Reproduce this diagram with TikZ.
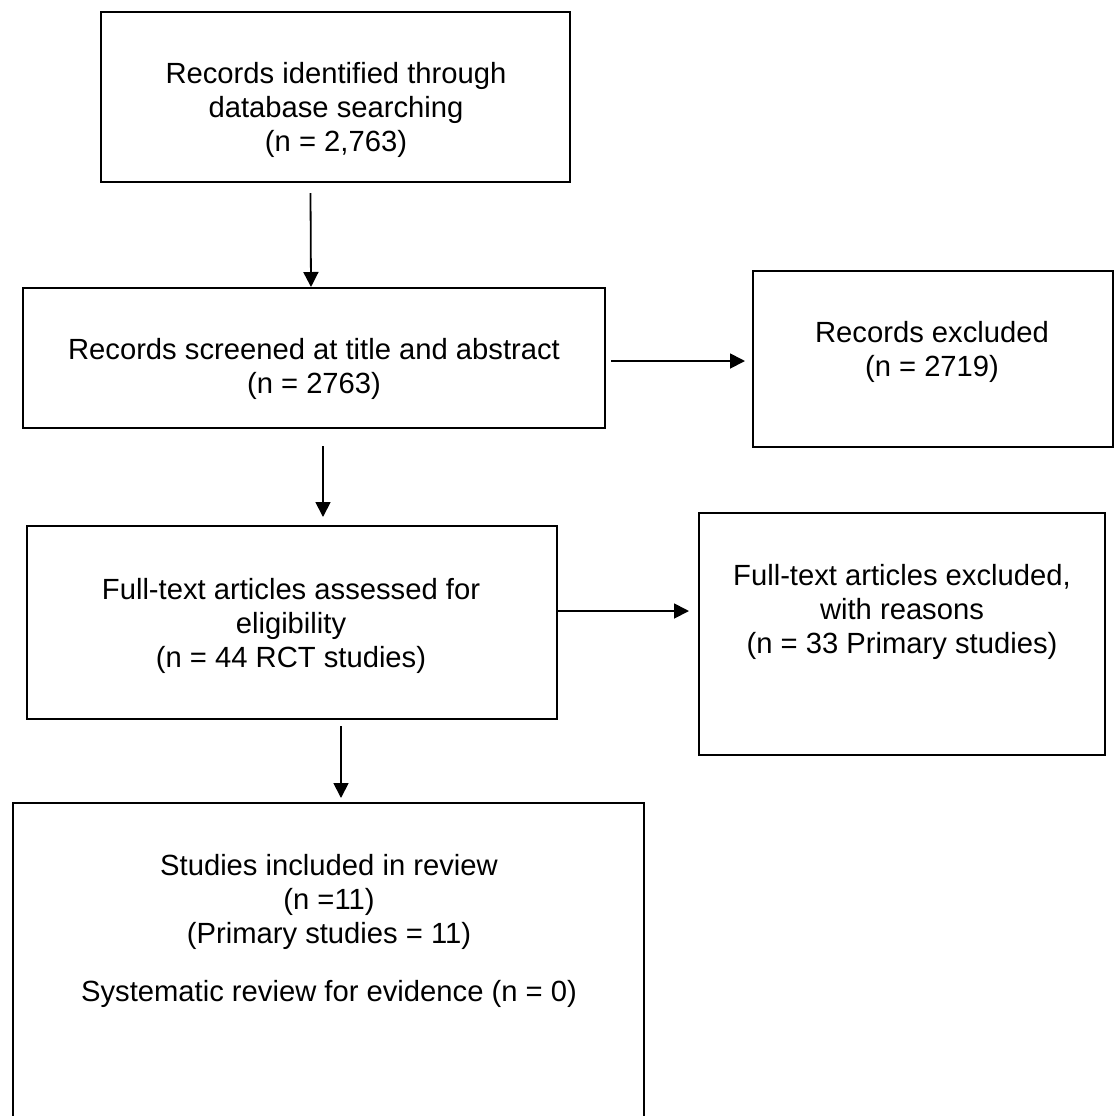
\documentclass[tikz,border=0pt]{standalone}
\usepackage{fontspec}
\setmainfont{Liberation Sans}
\usetikzlibrary{arrows.meta}

\begin{document}
\begin{tikzpicture}[
    x=0.5pt,
    y=-0.5pt,
    box/.style={
      rectangle,
      draw,
      line width=1pt,
      inner sep=0pt
    },
    txt/.style={
      align=center,
      inner sep=0pt,
      font=\fontsize{14.6}{17}\selectfont
    },
    >={Triangle[length=7.5pt,width=7.5pt]},
    ]

    \useasboundingbox (0,0) rectangle (1120,1115);

    \node (ident)   [box, minimum width=234.5pt, minimum height=85pt]  at (335.5,97)  {};
    \node (screen)  [box, minimum width=291pt,   minimum height=70pt]  at (314,358)   {};
    \node (recexcl) [box, minimum width=180pt,   minimum height=88pt]  at (933,359)   {};
    \node (elig)    [box, minimum width=265pt,   minimum height=96.5pt] at (292,622.5) {};
    \node (ftexcl)  [box, minimum width=203pt,   minimum height=121pt] at (902,634)   {};
    \node (incl)    [box, minimum width=315.5pt, minimum height=166pt] at (328.5,969) {};

    \node (identtxt)   [txt] at (336,110) {Records identified through\\database searching\\(n = 2,763)};
    \node (screentxt)  [txt] at (314,369) {Records screened at title and abstract\\(n = 2763)};
    \node (recexcltxt) [txt] at (932,352) {Records excluded\\(n = 2719)};
    \node (eligtxt)    [txt] at (291,626) {Full-text articles assessed for\\eligibility\\(n = 44 RCT studies)};
    \node (ftexcltxt)  [txt] at (902,612) {Full-text articles excluded,\\with reasons\\(n = 33 Primary studies)};
    \node (incltxt)    [txt] at (329,931) {Studies included in review\\(n =11)\\(Primary studies = 11)\\[12pt]Systematic review for evidence (n = 0)};

    \path[->, line width=0.9pt]
    ([shift={(-25,10)}]ident.south)  edge ([shift={(-3,0)}]screen.north)
    ([shift={(5,3)}]screen.east)     edge ([shift={(-7,2)}]recexcl.west)
    ([shift={(9,17)}]screen.south)   edge ([shift={(31,-8)}]elig.north)
    ([shift={(0,-11.5)}]elig.east)   edge ([shift={(-9,-23)}]ftexcl.west)
    ([shift={(49,6)}]elig.south)     edge ([shift={(12.5,-4)}]incl.north)
    ;
  \end{tikzpicture}
\end{document}
